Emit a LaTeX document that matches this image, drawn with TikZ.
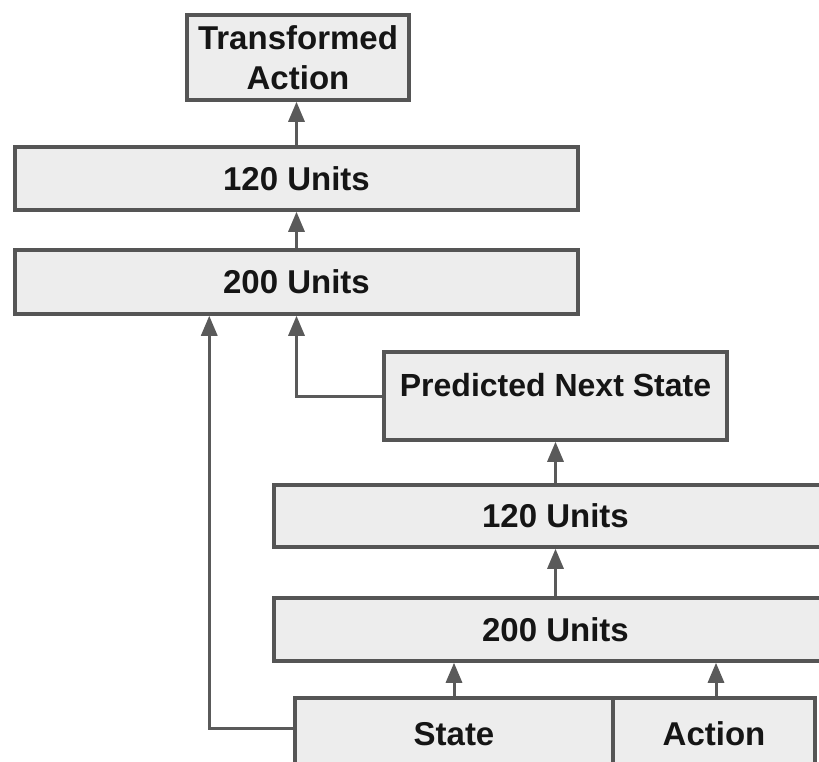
\documentclass[tikz,border=0pt]{standalone}
\usepackage{fontspec}
\setmainfont{Liberation Sans}
\usetikzlibrary{arrows.meta}
\definecolor{boxfill}{HTML}{EDEDED}
\definecolor{boxline}{HTML}{555555}
\definecolor{arrcol}{HTML}{5A5A5A}
\definecolor{txtcol}{HTML}{151515}
\tikzset{
  blk/.style={draw=boxline, fill=boxfill, line width=3.5pt, rectangle, inner sep=0pt,
    font=\fontsize{33}{40}\selectfont\bfseries, text=txtcol, align=center},
  arr/.style={draw=arrcol, line width=3pt, -{Triangle[length=20pt,width=16pt]}}
}
\begin{document}
\begin{tikzpicture}[x=1pt,y=-1pt]
\useasboundingbox (0,0) rectangle (819,761);
\fill[white] (0,0) rectangle (819,761);
% top branch
\node[blk, minimum width=222pt, minimum height=85pt] (ta) at (298,57.5) {Transformed\\Action};
\node[blk, minimum width=563pt, minimum height=63pt] (u120a) at (296.5,178.5) {120 Units};
\node[blk, minimum width=563pt, minimum height=64pt] (u200a) at (296.5,282) {200 Units};
% predicted next state
\node[blk, minimum width=343pt, minimum height=88pt] (pns) at (555.5,396) {};
\node[font=\fontsize{32}{40}\selectfont\bfseries, text=txtcol, inner sep=0pt] (pnst) at (555.5,385) {Predicted Next State};
% bottom branch
\node[blk, minimum width=563pt, minimum height=62pt] (u120b) at (555.5,516) {120 Units};
\node[blk, minimum width=563pt, minimum height=63pt] (u200b) at (555.5,629.5) {200 Units};
\node[blk, minimum width=318pt, minimum height=72pt] (state) at (454,734) {State};
\node[blk, minimum width=202pt, minimum height=72pt] (action) at (714,734) {Action};
% connectors
\draw[arr] (u120a.north) -- (u120a.north |- ta.south);
\draw[arr] (u200a.north) -- (u200a.north |- u120a.south);
\draw[arr] (pns.west) -| (u200a.south);
\draw[arr] ([yshift=6pt]state.west) -| ([xshift=196pt]u200a.south west);
\draw[arr] (state.north) -- (state.north |- u200b.south);
\draw[arr] ([xshift=2pt]action.north) -- ([xshift=2pt]action.north |- u200b.south);
\draw[arr] (u200b.north) -- (u200b.north |- u120b.south);
\draw[arr] (u120b.north) -- (u120b.north |- pns.south);
\end{tikzpicture}
\end{document}
